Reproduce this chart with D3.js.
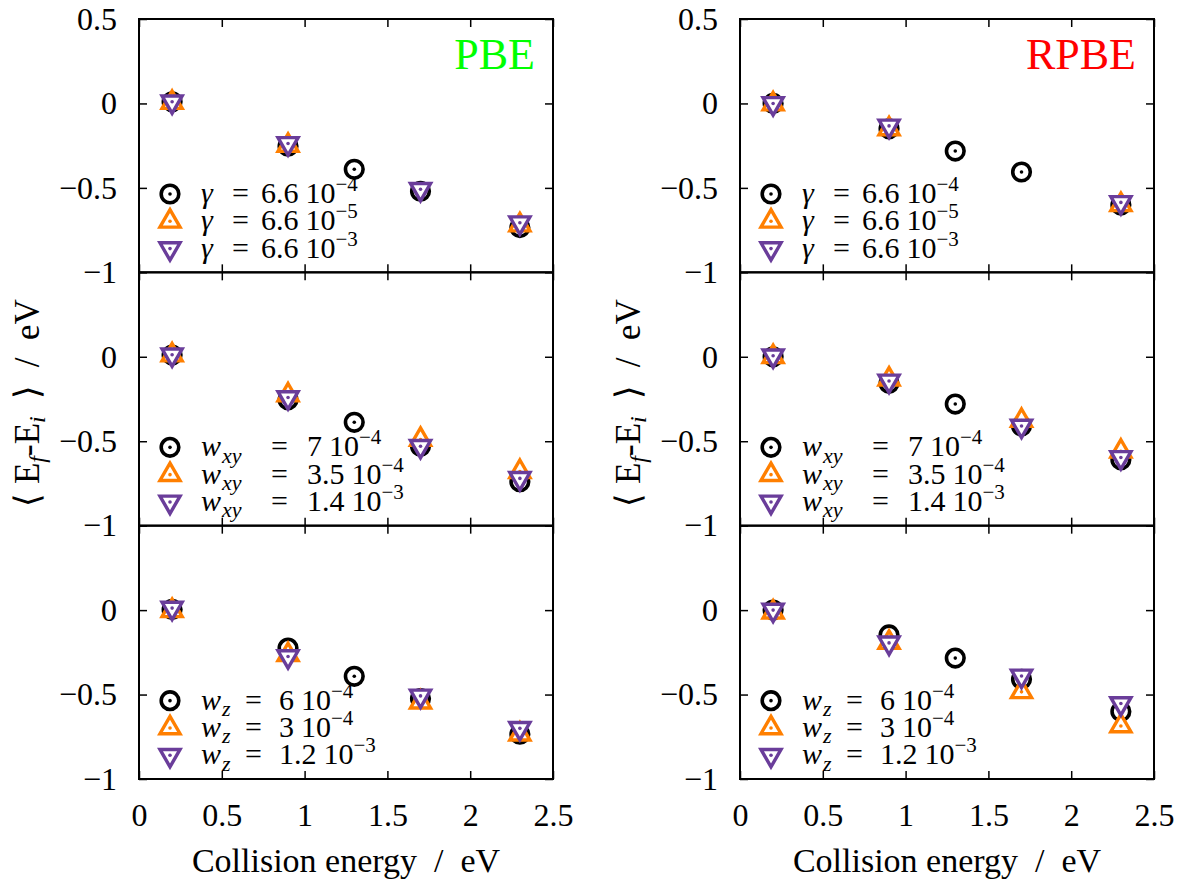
<!DOCTYPE html>
<html><head><meta charset="utf-8">
<script src="https://cdn.jsdelivr.net/npm/d3@7"></script>
<style>
body{margin:0;background:#fff}
svg{display:block}
</style>
</head><body>
<svg id="chart" width="1184" height="888"></svg>
<script>
// ---------- data ----------
const xValues = [0.2, 0.9, 1.3, 1.7, 2.3];
const xTicks = [0, 0.5, 1, 1.5, 2, 2.5];
const yTicksTop = [0.5, 0, -0.5, -1];
const yTicksLower = [0, -0.5, -1];
const functionals = ["PBE", "RPBE"];
const functionalColors = ["#00ff00", "#ff0000"];
const seriesColors = ["#000000", "#ff7f00", "#6a3d9a"];
const seriesShapes = ["circle", "triangleUp", "triangleDown"];

// gamma row
const pbeGammaRef   = [0.01, -0.253, -0.39, -0.52, -0.735];
const pbeGammaLow   = [0.005, -0.249, null, null, -0.72];
const pbeGammaHigh  = [0.01, -0.237, null, -0.508, -0.706];
const rpbeGammaRef  = [0.0, -0.15, -0.282, -0.406, -0.602];
const rpbeGammaLow  = [-0.004, -0.151, null, null, -0.6];
const rpbeGammaHigh = [0.0, -0.133, null, null, -0.586];
// w_xy row
const pbeWxyRef   = [0.01, -0.255, -0.388, -0.53, -0.74];
const pbeWxyLow   = [0.01, -0.227, null, -0.49, -0.68];
const pbeWxyHigh  = [0.012, -0.241, null, -0.53, -0.72];
const rpbeWxyRef  = [0.0, -0.157, -0.28, -0.41, -0.61];
const rpbeWxyLow  = [0.0, -0.133, null, -0.378, -0.56];
const rpbeWxyHigh = [0.006, -0.143, null, -0.41, -0.596];
// w_z row
const pbeWzRef   = [0.004, -0.225, -0.392, -0.524, -0.735];
const pbeWzLow   = [-0.004, -0.265, null, -0.545, -0.735];
const pbeWzHigh  = [0.012, -0.275, null, -0.508, -0.7];
const rpbeWzRef  = [0.0, -0.147, -0.284, -0.41, -0.6];
const rpbeWzLow  = [-0.012, -0.192, null, -0.484, -0.686];
const rpbeWzHigh = [0.0, -0.194, null, -0.39, -0.553];

// legend texts
const paramSymbols = [["γ", ""], ["w", "xy"], ["w", "z"]];
const gammaLabels = [["6.6", "−4"], ["6.6", "−5"], ["6.6", "−3"]];
const wxyLabels   = [["7", "−4"], ["3.5", "−4"], ["1.4", "−3"]];
const wzLabels    = [["6", "−4"], ["3", "−4"], ["1.2", "−3"]];
const rowLabels = [gammaLabels, wxyLabels, wzLabels];

const panelData = [
  [[pbeGammaRef, pbeGammaLow, pbeGammaHigh], [rpbeGammaRef, rpbeGammaLow, rpbeGammaHigh]],
  [[pbeWxyRef, pbeWxyLow, pbeWxyHigh], [rpbeWxyRef, rpbeWxyLow, rpbeWxyHigh]],
  [[pbeWzRef, pbeWzLow, pbeWzHigh], [rpbeWzRef, rpbeWzLow, rpbeWzHigh]]
];

// ---------- layout ----------
const SERIF = "Liberation Serif";
const cols = [{x0: 139, x1: 553}, {x0: 740, x1: 1154}];
const plotTop = 19, plotBottom = 779;
const rowH = (plotBottom - plotTop) / 3;
const eqOffset = [31, 70, 44];
const numOffset = [60, 106, 78];

const svg = d3.select("#chart");

function marker(g, shape, color, cx, cy) {
  const m = g.append("g").attr("transform", `translate(${cx},${cy})`);
  if (shape === "circle") {
    m.append("circle").attr("r", 8.8).attr("fill", "#fff")
      .attr("stroke", color).attr("stroke-width", 3.6);
  } else {
    m.append("path").attr("d", d3.symbol(d3.symbolTriangle, 175)())
      .attr("transform", shape === "triangleDown" ? "rotate(180)" : null)
      .attr("fill", "#fff").attr("stroke", color).attr("stroke-width", 3.4)
      .attr("stroke-linejoin", "miter");
  }
  m.append("circle").attr("r", 1.8).attr("fill", color);
}

const fmt = d => String(d).replace("-", "−");

for (let r = 0; r < 3; r++) {
  const yTop = plotTop + r * rowH, yBot = plotTop + (r + 1) * rowH;
  const y = d3.scaleLinear().domain([-1, 0.5]).range([yBot, yTop]);
  for (let c = 0; c < 2; c++) {
    const {x0, x1} = cols[c];
    const x = d3.scaleLinear().domain([0, 2.5]).range([x0, x1]);
    const g = svg.append("g");

    const yt = r === 0 ? yTicksTop : yTicksLower;
    const styleAxis = a => {
      a.attr("font-family", SERIF);
      a.select(".domain").remove();
      a.selectAll("line").attr("stroke", "#000").attr("stroke-width", 1.5);
      a.selectAll("text").attr("font-family", SERIF).attr("font-size", 32).attr("fill", "#000");
    };
    g.append("g").attr("transform", `translate(0,${yBot})`)
      .call(d3.axisBottom(x).tickValues(xTicks).tickSizeInner(-8).tickSizeOuter(0).tickPadding(24)
        .tickFormat(r === 2 ? fmt : () => ""))
      .call(styleAxis);
    g.append("g").attr("transform", `translate(0,${yTop})`)
      .call(d3.axisTop(x).tickValues(xTicks).tickSizeInner(-8).tickSizeOuter(0).tickFormat(() => ""))
      .call(styleAxis);
    g.append("g").attr("transform", `translate(${x0},0)`)
      .call(d3.axisLeft(y).tickValues(yt).tickSizeInner(-8).tickSizeOuter(0).tickPadding(22).tickFormat(fmt))
      .call(styleAxis);
    g.append("g").attr("transform", `translate(${x1},0)`)
      .call(d3.axisRight(y).tickValues(yt).tickSizeInner(-8).tickSizeOuter(0).tickFormat(() => ""))
      .call(styleAxis);

    g.append("rect").attr("x", x0).attr("y", yTop).attr("width", x1 - x0).attr("height", yBot - yTop)
      .attr("fill", "none").attr("stroke", "#000").attr("stroke-width", 2);

    const series = panelData[r][c];
    series.forEach((vals, s) => {
      vals.forEach((v, i) => {
        if (v === null) return;
        marker(g, seriesShapes[s], seriesColors[s], x(xValues[i]), y(v));
      });
    });

    const labels = rowLabels[r];
    labels.forEach((lab, i) => {
      const ly = yTop + 175 + i * 27.3;
      marker(g, seriesShapes[i], seriesColors[i], x0 + 31, ly);
      const tx = x0 + 62;
      const t = g.append("text").attr("x", tx).attr("y", ly + 9)
        .attr("font-family", SERIF).attr("font-size", 30).attr("fill", "#000");
      t.append("tspan").attr("font-style", "italic").text(paramSymbols[r][0]);
      if (paramSymbols[r][1]) {
        t.append("tspan").attr("font-style", "italic").attr("font-size", 22).attr("dx", 1).attr("dy", 6.5).text(paramSymbols[r][1]);
      }
      t.append("tspan").attr("x", tx + eqOffset[r]).attr("y", ly + 9).text("=");
      t.append("tspan").attr("x", tx + numOffset[r]).text(lab[0]);
      t.append("tspan").attr("dx", 7).text("10");
      t.append("tspan").attr("font-size", 21).attr("dy", -12).text(lab[1]);
    });

    if (r === 0) {
      g.append("text").attr("x", x1 - 18).attr("y", yTop + 50).attr("text-anchor", "end")
        .attr("font-family", SERIF).attr("font-size", 44).attr("fill", functionalColors[c])
        .text(functionals[c]);
    }
  }
}

cols.forEach(({x0, x1}) => {
  svg.append("text").attr("x", (x0 + x1) / 2).attr("y", 872).attr("text-anchor", "middle")
    .attr("font-family", SERIF).attr("font-size", 34).attr("fill", "#000")
    .style("white-space", "pre")
    .text("Collision energy  /  eV");
  const yt = svg.append("text")
    .attr("transform", `translate(${x0 - 100},${plotTop + 1.5 * rowH + 4}) rotate(-90)`)
    .attr("text-anchor", "middle").attr("font-family", SERIF).attr("font-size", 35).attr("fill", "#000")
    .style("white-space", "pre");
  yt.append("tspan").text("⟨ E");
  yt.append("tspan").attr("font-style", "italic").attr("font-size", 24).attr("dy", 6).text("f");
  yt.append("tspan").attr("dy", -6).text("-E");
  yt.append("tspan").attr("font-style", "italic").attr("font-size", 24).attr("dy", 6).text("i");
  yt.append("tspan").attr("dy", -6).text("  ⟩  /  eV");
});
</script>
</body></html>
